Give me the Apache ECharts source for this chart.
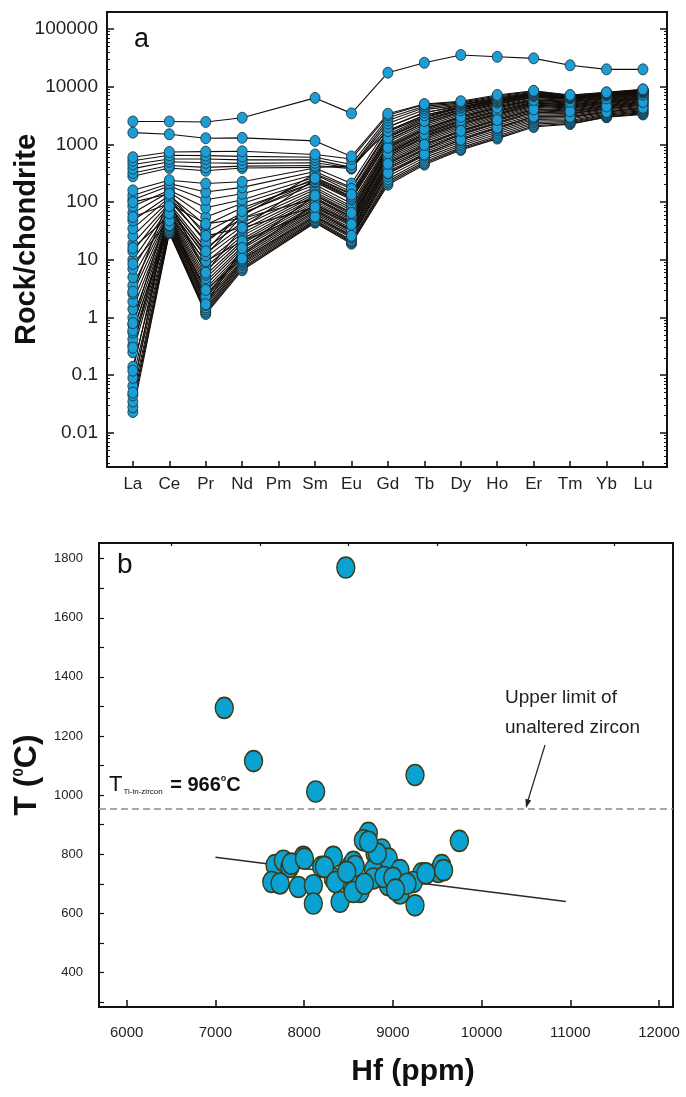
<!DOCTYPE html>
<html><head><meta charset="utf-8">
<script src="https://cdn.jsdelivr.net/npm/echarts@6/dist/echarts.min.js"></script>
<style>html,body{margin:0;padding:0;background:#fff}#c{width:686px;height:1097px}</style>
</head><body><div id="c"></div>
<script>
// ---------- Panel a: chondrite-normalised REE patterns ----------
const ree = ['La','Ce','Pr','Nd','Pm','Sm','Eu','Gd','Tb','Dy','Ho','Er','Tm','Yb','Lu'];
const yTickValuesA = [0.01, 0.1, 1, 10, 100, 1000, 10000, 100000];
const yTickLabelsA = ['0.01','0.1','1','10','100','1000','10000','100000'];

const s01 = [2500, 2500, 2450, 2900, null, 6400, 3450, 17500, 26000, 35500, 33000, 31000, 23500, 20000, 20000];
const s02 = [1600, 1500, 1280, 1300, null, 1150, 620, 3400, 5000, 5600, 7200, 8500, 7200, 8000, 9000];
const a01 = [600, 740, 750, 760, null, 670, 560, 3200, 4900, 5400, 6900, 8300, 7000, 7900, 8900];
const a02 = [520, 650, 640, 620, null, 600, 450, 2900, 4600, 5200, 6600, 8000, 6900, 7800, 8700];
const a03 = [450, 560, 560, 540, null, 540, 400, 2600, 4300, 5000, 6300, 7700, 6700, 7600, 8500];
const a04 = [380, 500, 480, 470, null, 480, 390, 2300, 4000, 4800, 6100, 7400, 6600, 7500, 8300];
const a05 = [320, 430, 400, 420, null, 430, 380, 2000, 3600, 4500, 5800, 7200, 6500, 7300, 8100];
const a06 = [280, 390, 350, 390, null, 400, 420, 1700, 3200, 4300, 5600, 7000, 6300, 7100, 7900];
const b01 = [160, 240, 210, 225, null, 390, 210, 2000, 3500, 4800, 6300, 7800, 6900, 7700, 8700];
const b02 = [130, 210, 150, 180, null, 340, 180, 1750, 3200, 4500, 6000, 7600, 6800, 7600, 8600];
const b03 = [110, 190, 110, 140, null, 300, 150, 1500, 2900, 4300, 5700, 7300, 6600, 7400, 8400];
const b04 = [85, 160, 80, 110, null, 270, 140, 1350, 2600, 4000, 5400, 7000, 6400, 7200, 8200];
const b05 = [65, 150, 55, 95, null, 240, 120, 1200, 2400, 3700, 5100, 6700, 6200, 7000, 8000];
const b06 = [48, 130, 40, 80, null, 220, 110, 1100, 2200, 3500, 4900, 6500, 6000, 6800, 7800];
const b07 = [35, 120, 30, 65, null, 200, 95, 1000, 2050, 3300, 4700, 6200, 5800, 6600, 7600];
const b08 = [26, 105, 22, 52, null, 180, 85, 950, 1900, 3100, 4500, 6000, 5600, 6400, 7400];
const b09 = [19, 95, 16, 44, null, 165, 78, 900, 1800, 2950, 4300, 5800, 5400, 6200, 7200];
const b10 = [14, 88, 13, 38, null, 150, 72, 850, 1700, 2800, 4100, 5600, 5200, 6000, 7000];
const b11 = [10, 80, 11, 33, null, 140, 66, 800, 1600, 2650, 3900, 5400, 5000, 5800, 6800];
const b12 = [7, 75, 9, 29, null, 130, 60, 760, 1500, 2500, 3700, 5200, 4800, 5600, 6600];
const b13 = [5, 70, 7.5, 26, null, 120, 56, 720, 1420, 2380, 3500, 5000, 4600, 5400, 6400];
const b14 = [3.6, 66, 6.5, 23, null, 112, 52, 680, 1340, 2250, 3350, 4800, 4400, 5200, 6200];
const b15 = [2.6, 62, 5.5, 21, null, 104, 49, 640, 1260, 2120, 3200, 4600, 4250, 5000, 6000];
const b16 = [1.9, 58, 4.8, 19, null, 97, 46, 600, 1180, 2000, 3050, 4400, 4100, 4850, 5800];
const b17 = [1.4, 55, 4.2, 17, null, 90, 43, 560, 1100, 1880, 2900, 4200, 3950, 4700, 5600];
const b18 = [1.0, 52, 3.7, 15.5, null, 85, 40, 520, 1030, 1760, 2750, 4000, 3800, 4550, 5400];
const b19 = [0.75, 49, 3.2, 14, null, 80, 38, 490, 960, 1650, 2600, 3800, 3650, 4400, 5200];
const b20 = [0.55, 46, 2.8, 13, null, 75, 35, 460, 900, 1550, 2450, 3600, 3500, 4250, 5000];
const b21 = [0.42, 44, 2.5, 12, null, 70, 33, 430, 840, 1450, 2300, 3400, 3350, 4100, 4800];
const b22 = [0.33, 42, 2.2, 11, null, 66, 31, 400, 790, 1360, 2150, 3200, 3200, 3950, 4600];
const b23 = [0.25, 40, 2.0, 10, null, 62, 29, 370, 740, 1270, 2000, 3000, 3050, 3800, 4400];
const b24 = [0.14, 38, 1.8, 9.5, null, 58, 27, 340, 690, 1180, 1880, 2850, 2900, 3650, 4200];
const b25 = [0.09, 36, 1.65, 9, null, 55, 25, 310, 640, 1100, 1760, 2700, 2750, 3500, 4000];
const b26 = [0.065, 34, 1.5, 8.5, null, 52, 24, 280, 590, 1020, 1640, 2550, 2600, 3350, 3850];
const b27 = [0.045, 32, 1.4, 8, null, 49, 22, 250, 540, 950, 1520, 2400, 2500, 3200, 3700];
const b28 = [0.035, 31, 1.3, 7.4, null, 47, 21, 230, 500, 880, 1400, 2250, 2400, 3100, 3550];
const b29 = [0.028, 30, 1.22, 7, null, 45, 20, 215, 470, 830, 1320, 2100, 2300, 3000, 3420];
const b30 = [0.023, 29, 1.15, 6.6, null, 44, 19, 200, 445, 800, 1260, 2000, 2250, 2950, 3300];
const b31 = [2.8, 120, 20, 62, null, 230, 115, 1180, 2350, 3650, 5000, 6600, 6100, 6900, 7900];
const b32 = [16, 58, 9.5, 21, null, 72, 32, 390, 820, 1500, 2350, 3650, 3400, 4150, 5000];
const b33 = [55, 95, 42, 52, null, 115, 55, 620, 1350, 2250, 3350, 4850, 4450, 5250, 6250];
const b34 = [0.6, 40, 2.3, 12.5, null, 92, 44, 700, 1520, 2600, 3750, 5250, 4850, 5650, 6650];
const b35 = [0.05, 100, 6, 36, null, 250, 125, 1400, 2750, 4050, 5450, 7050, 6450, 7250, 8250];
const b36 = [0.3, 72, 12, 58, null, 310, 170, 1650, 3000, 4400, 5800, 7400, 6700, 7500, 8500];
const b37 = [8.5, 48, 3.0, 10.5, null, 56, 26, 320, 670, 1200, 1950, 3050, 3000, 3650, 4300];
const b38 = [100, 140, 26, 36, null, 82, 41, 460, 980, 1720, 2650, 4050, 3750, 4550, 5450];
const b39 = [0.12, 64, 1.7, 16, null, 130, 65, 880, 1850, 3000, 4350, 5900, 5500, 6300, 7300];
const b40 = [0.8, 85, 14, 70, null, 260, 135, 1300, 2550, 3900, 5300, 6900, 6300, 7100, 8100];

const samples = [b30,b29,b28,b27,b26,b25,b24,b23,b22,b21,b20,b19,b18,b17,b16,b15,b14,b13,b12,b11,
  b10,b09,b08,b07,b06,b05,b04,b03,b02,b01,b31,b32,b33,b34,b35,b36,b37,b38,b39,b40,
  a06,a05,a04,a03,a02,a01,s02,s01];

// ---------- Panel b: Ti-in-zircon temperature vs Hf ----------
const hfTemp = [
  [8470,1770],[7100,1295],[7430,1115],[8130,1012],[9250,1068],[9750,845],
  [8724,872],[8668,847],[8875,816],[8800,802],[8950,785],[7991,791],[8329,791],[7672,763],
  [7766,778],[7841,757],[8198,757],[8517,757],[8555,774],[8780,746],[9081,746],[9326,735],
  [9513,740],[9551,763],[7635,706],[7729,701],[7935,689],[8104,695],[8104,633],[8329,718],
  [8405,639],[8536,695],[8630,672],[8780,718],[8950,695],[9081,667],[9231,706],[9250,627],
  [8229,757],[8353,706],[8577,701],[8552,672],[8900,723],[9373,735],[9572,746],[8825,802],
  [8726,842],[7855,768],[8004,785],[8575,760],[8480,740],[8680,700],[9000,720],[9160,700],[9030,680]
];
const trendLine = [[7000, 790], [10950, 640]];
const tiZirconLimit = 955;
const xTicksB = [6000, 7000, 8000, 9000, 10000, 11000, 12000];
const xMinorTicksB = [6500, 7500, 8500, 9500, 10500, 11500];
const yLabelsB = [400, 600, 800, 1000, 1200, 1400, 1600, 1800];
const yTicksB = [300, 400, 500, 600, 700, 800, 900, 1000, 1100, 1200, 1300, 1400, 1500, 1600, 1700, 1800];

// ---------- build ----------
const FONT = 'Liberation Sans, Arial, sans-serif';
const INK = '#111';
const catPos = ree.map((_, i) => i + 1);
const minorLog = [];
for (let e = -3; e <= 5; e++) for (let m = 2; m <= 9; m++) minorLog.push(m * Math.pow(10, e));

function pairs(s) {
  const out = [];
  s.forEach((v, i) => { if (v != null) out.push([i + 1, v]); });
  return out;
}
const lineSeries = samples.map((s, i) => ({
  type: 'line', name: 'sample ' + (i + 1), xAxisIndex: 0, yAxisIndex: 0,
  data: pairs(s), showSymbol: false, silent: true, z: 2,
  lineStyle: { color: '#140e0a', width: 1.1 }
}));
const allPts = [];
samples.forEach(s => pairs(s).forEach(p => allPts.push(p)));

const logAxisBase = {
  type: 'log', logBase: 10, gridIndex: 0, min: 0.00257, max: 197000,
  splitLine: { show: false }
};
const plain = v => String(v);

const chart = echarts.init(document.getElementById('c'), null, { renderer: 'canvas' });
chart.setOption({
  animation: false,
  backgroundColor: '#fff',
  textStyle: { fontFamily: FONT },
  grid: [
    { left: 107, right: 19, top: 12, height: 455, show: true, borderColor: INK, borderWidth: 2, backgroundColor: 'transparent', outerBoundsMode: 'none', containLabel: false },
    { left: 99, right: 13, top: 543, height: 464, show: true, borderColor: INK, borderWidth: 2, backgroundColor: 'transparent', outerBoundsMode: 'none', containLabel: false }
  ],
  xAxis: [
    { gridIndex: 0, type: 'value', min: 0.29, max: 15.66,
      axisLine: { show: true, lineStyle: { color: INK, width: 2 } },
      axisTick: { show: true, inside: true, length: 6, customValues: catPos, lineStyle: { color: INK, width: 1.5 } },
      axisLabel: { customValues: catPos, formatter: v => ree[Math.round(v) - 1], fontSize: 17, color: '#222', margin: 9, fontFamily: FONT },
      splitLine: { show: false } },
    { gridIndex: 1, type: 'value', min: 5688, max: 12158,
      axisLine: { show: true, lineStyle: { color: INK, width: 2 } },
      axisTick: { show: true, inside: true, length: 7, customValues: xTicksB, lineStyle: { color: INK, width: 1.5 } },
      axisLabel: { customValues: xTicksB, formatter: plain, fontSize: 15, color: '#222', margin: 18, fontFamily: FONT },
      splitLine: { show: false },
      name: 'Hf (ppm)', nameLocation: 'middle', nameGap: 50,
      nameTextStyle: { fontSize: 30, fontWeight: 'bold', color: '#111', fontFamily: FONT, padding: [0, 0, 0, 54] } },
    { gridIndex: 1, type: 'value', min: 5688, max: 12158,
      axisLine: { show: false },
      axisTick: { show: true, inside: true, length: 3, customValues: xMinorTicksB, lineStyle: { color: INK, width: 1.2 } },
      axisLabel: { show: false }, splitLine: { show: false } }
  ],
  yAxis: [
    Object.assign({}, logAxisBase, { position: 'left',
      axisLine: { show: true, lineStyle: { color: INK, width: 2 } },
      axisTick: { show: true, inside: true, length: 7, customValues: yTickValuesA, lineStyle: { color: INK, width: 1.5 } },
      axisLabel: { customValues: yTickValuesA, formatter: v => yTickLabelsA[Math.round(Math.log10(v)) + 2],
        fontSize: 19, color: '#222', margin: 9, fontFamily: FONT },
      name: 'Rock/chondrite', nameLocation: 'middle', nameGap: 66, nameMoveOverlap: false,
      nameTextStyle: { fontSize: 29, fontWeight: 'bold', color: '#111', fontFamily: FONT } }),
    Object.assign({}, logAxisBase, { position: 'left', axisLine: { show: false },
      axisTick: { show: true, inside: true, length: 3, customValues: minorLog, lineStyle: { color: INK, width: 1 } },
      axisLabel: { show: false } }),
    Object.assign({}, logAxisBase, { position: 'right', axisLine: { show: false },
      axisTick: { show: true, inside: true, length: 7, customValues: yTickValuesA, lineStyle: { color: INK, width: 1.5 } },
      axisLabel: { show: false } }),
    Object.assign({}, logAxisBase, { position: 'right', axisLine: { show: false },
      axisTick: { show: true, inside: true, length: 3, customValues: minorLog, lineStyle: { color: INK, width: 1 } },
      axisLabel: { show: false } }),
    { gridIndex: 1, type: 'value', min: 283, max: 1853,
      axisLine: { show: true, lineStyle: { color: INK, width: 2 } },
      axisTick: { show: true, inside: true, length: 5, customValues: yTicksB, lineStyle: { color: INK, width: 1.2 } },
      axisLabel: { customValues: yLabelsB, formatter: plain, fontSize: 13, color: '#222', margin: 16, fontFamily: FONT },
      splitLine: { show: false },
      name: '{t|T (}{s|0}{t|C)}', nameLocation: 'middle', nameGap: 56,
      nameTextStyle: { rich: {
        t: { fontSize: 32, fontWeight: 'bold', color: '#111', fontFamily: FONT },
        s: { fontSize: 15, fontWeight: 'bold', color: '#111', fontFamily: FONT, verticalAlign: 'top', padding: [0, 0, 14, 0] } } } }
  ],
  series: lineSeries.concat([
    { type: 'scatter', name: 'REE points', xAxisIndex: 0, yAxisIndex: 0, data: allPts, z: 4, silent: true,
      symbol: 'circle', symbolSize: [10, 11],
      itemStyle: { color: '#1b9dd6', borderColor: '#1d2a30', borderWidth: 0.8, opacity: 1 } },
    { type: 'line', name: 'trend', xAxisIndex: 1, yAxisIndex: 4, data: trendLine, showSymbol: false, silent: true, z: 3,
      lineStyle: { color: '#2a2a2a', width: 1.5 },
      markLine: { silent: true, symbol: ['none', 'none'], label: { show: false },
        lineStyle: { type: [7, 4], color: '#8c8c8c', width: 1.5 },
        data: [{ yAxis: tiZirconLimit }] } },
    { type: 'scatter', name: 'Ti-in-zircon T', xAxisIndex: 1, yAxisIndex: 4, data: hfTemp, z: 5, silent: true,
      symbol: 'circle', symbolSize: [18, 21],
      itemStyle: { color: '#0aa1d3', borderColor: '#3d3b14', borderWidth: 1.5, opacity: 1 } }
  ]),
  graphic: [
    { type: 'text', left: 134, top: 26, style: { text: 'a', fontSize: 27, fill: '#111', fontFamily: FONT } },
    { type: 'text', left: 117, top: 551, style: { text: 'b', fontSize: 28, fill: '#111', fontFamily: FONT } },
    { type: 'text', left: 109, top: 774, style: {
        text: '{T|T}{sub|Ti-in-zircon}{eq| = 966}{sup|o}{eq|C}',
        rich: {
          T: { fontSize: 22, fill: '#111', fontFamily: FONT },
          sub: { fontSize: 8, fill: '#111', fontFamily: FONT, verticalAlign: 'bottom', padding: [0, 2, 0, 1] },
          eq: { fontSize: 20, fontWeight: 'bold', fill: '#111', fontFamily: FONT },
          sup: { fontSize: 9, fontWeight: 'bold', fill: '#111', fontFamily: FONT, verticalAlign: 'top' }
        } } },
    { type: 'text', left: 505, top: 683, style: { text: 'Upper limit of\nunaltered zircon', fontSize: 19, lineHeight: 30, fill: '#222', fontFamily: FONT } },
    { type: 'line', shape: { x1: 545, y1: 745, x2: 527.5, y2: 802 }, style: { stroke: '#222', lineWidth: 1.2 } },
    { type: 'polygon', shape: { points: [[526, 808], [531.2, 800.6], [525.4, 798.8]] }, style: { fill: '#222' } }
  ]
});
</script>
</body></html>
